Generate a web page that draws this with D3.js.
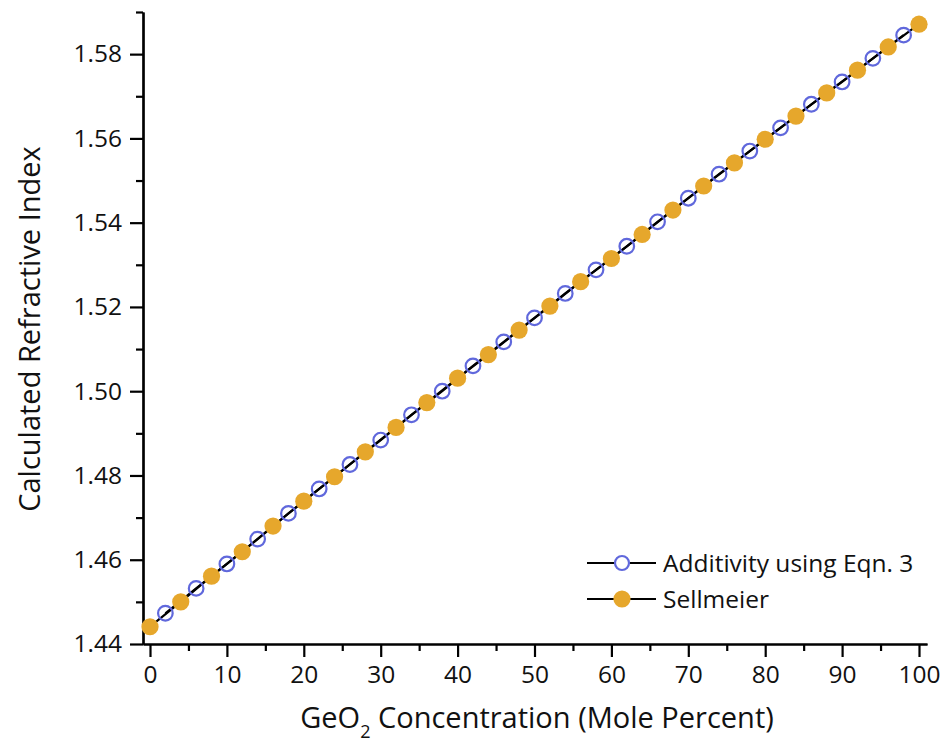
<!DOCTYPE html>
<html><head><meta charset="utf-8">
<script src="https://cdn.jsdelivr.net/npm/d3@7/dist/d3.min.js"></script>
<style>
body{margin:0;background:#fff;}
svg{display:block;}
text{font-family:"Open Sans",sans-serif;fill:#111;}
</style></head>
<body>
<svg id="chart" width="943" height="750"></svg>
<script>
// ---- data ----
const sellmeierX = [0,4,8,12,16,20,24,28,32,36,40,44,48,52,56,60,64,68,72,76,80,84,88,92,96,100];
const sellmeierY = [1.4441,1.4500,1.4561,1.4619,1.4680,1.4739,1.4797,1.4856,1.4914,1.4973,1.5031,1.5087,1.5145,1.5202,1.5260,1.5315,1.5372,1.5430,1.5487,1.5542,1.5598,1.5653,1.5708,1.5762,1.5817,1.5871];
const additivityX = [2,6,10,14,18,22,26,30,34,38,42,46,50,54,58,62,66,70,74,78,82,86,90,94,98];
const additivityY = [1.4473,1.4532,1.4590,1.4649,1.4710,1.4768,1.4826,1.4884,1.4944,1.5000,1.5060,1.5117,1.5174,1.5232,1.5288,1.5344,1.5402,1.5458,1.5515,1.5570,1.5625,1.5681,1.5734,1.5790,1.5845];
const xTicks = [0,10,20,30,40,50,60,70,80,90,100];
const yTicks = [1.44,1.46,1.48,1.50,1.52,1.54,1.56,1.58];
const seriesNames = ["Additivity using Eqn. 3","Sellmeier"];

const svg = d3.select("#chart");
const L = 143, T = 12, W = 784, H = 632;
const x = d3.scaleLinear().domain([-0.91, 101.04]).range([L, L + W]);
const y = d3.scaleLinear().domain([1.44, 1.59]).range([T + H, T]);

const g = svg.append("g");

// axes
const xMinor = d3.range(5, 100, 10);
const yMinor = d3.range(1.45, 1.59, 0.02).map(v => +v.toFixed(2));

const xAxis = g.append("g").attr("transform", `translate(0,${T + H})`)
  .call(d3.axisBottom(x).tickValues(xTicks).tickFormat(d3.format("d")).tickSize(13).tickPadding(9).tickSizeOuter(0));
const xAxisMinor = g.append("g").attr("transform", `translate(0,${T + H})`)
  .call(d3.axisBottom(x).tickValues(xMinor).tickFormat("").tickSize(7).tickSizeOuter(0));
const yAxis = g.append("g").attr("transform", `translate(${L},0)`)
  .call(d3.axisLeft(y).tickValues(yTicks).tickFormat(d3.format(".2f")).tickSize(13).tickPadding(8).tickSizeOuter(0));
const yAxisMinor = g.append("g").attr("transform", `translate(${L},0)`)
  .call(d3.axisLeft(y).tickValues(yMinor).tickFormat("").tickSize(7).tickSizeOuter(0));

[xAxis, xAxisMinor, yAxis, yAxisMinor].forEach(a => {
  a.select(".domain").attr("stroke", "#000").attr("stroke-width", 2.2);
  a.selectAll(".tick line").attr("stroke", "#000").attr("stroke-width", 2.2);
  a.selectAll(".tick text").style("font-family", '"Open Sans",sans-serif').style("font-size", "24.5px").attr("fill", "#111");
});

// axis titles
const xt = g.append("text").attr("x", 537).attr("y", 728).attr("text-anchor", "middle")
  .style("font-size", "29px");
xt.append("tspan").text("GeO");
xt.append("tspan").text("2").style("font-size", "18px").attr("dy", 10);
xt.append("tspan").text(" Concentration (Mole Percent)").attr("dy", -10);

g.append("text").attr("transform", `translate(40,${T + H / 2 + 1}) rotate(-90)`)
  .attr("text-anchor", "middle").style("font-size", "29px").text("Calculated Refractive Index");

// lines
const line = d3.line().x(d => x(d[0])).y(d => y(d[1]));
const addData = additivityX.map((v, i) => [v, additivityY[i]]);
const selData = sellmeierX.map((v, i) => [v, sellmeierY[i]]);

g.append("path").datum(addData).attr("d", line).attr("fill", "none").attr("stroke", "#000").attr("stroke-width", 2.2);
g.append("path").datum(selData).attr("d", line).attr("fill", "none").attr("stroke", "#000").attr("stroke-width", 2.2);

const blue = "#6068dc", orange = "#e6a72c";
g.selectAll(".add").data(addData).enter().append("circle")
  .attr("cx", d => x(d[0])).attr("cy", d => y(d[1])).attr("r", 7.3)
  .attr("fill", "none").attr("stroke", blue).attr("stroke-width", 2.2);
g.selectAll(".sel").data(selData).enter().append("circle")
  .attr("cx", d => x(d[0])).attr("cy", d => y(d[1])).attr("r", 8.6)
  .attr("fill", orange);

// legend
const leg = g.append("g");
const rows = [{name: seriesNames[0], yy: 563, open: true}, {name: seriesNames[1], yy: 599, open: false}];
rows.forEach(r => {
  leg.append("line").attr("x1", 587).attr("x2", 656).attr("y1", r.yy).attr("y2", r.yy).attr("stroke", "#000").attr("stroke-width", 2.2);
  if (r.open) {
    leg.append("circle").attr("cx", 622).attr("cy", r.yy).attr("r", 7).attr("fill", "#fff").attr("stroke", blue).attr("stroke-width", 2.2);
  } else {
    leg.append("circle").attr("cx", 622).attr("cy", r.yy).attr("r", 8.6).attr("fill", orange);
  }
  leg.append("text").attr("x", 663).attr("y", r.yy).attr("dy", "0.35em").style("font-size", "24.5px").text(r.name);
});
</script>
</body></html>
